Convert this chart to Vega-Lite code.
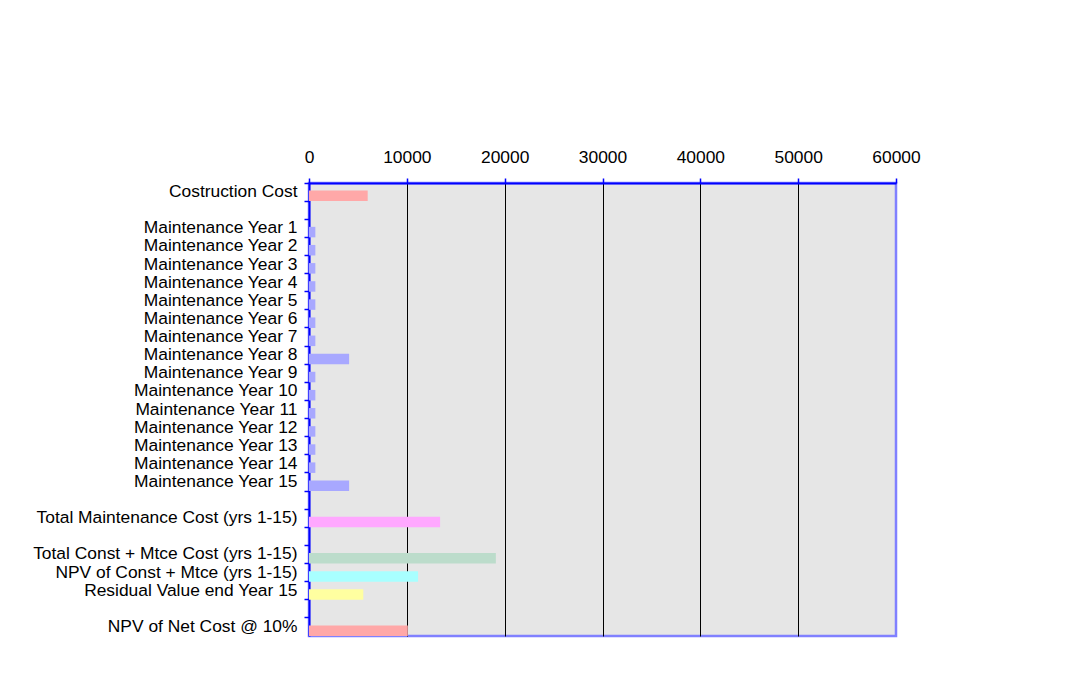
{
  "$schema": "https://vega.github.io/schema/vega-lite/v6.json",
  "width": 587,
  "height": 453,
  "autosize": {"type": "none"},
  "padding": {"left": 309, "top": 183, "right": 194, "bottom": 43},
  "background": "white",
  "data": {
    "values": [
      {"item": "Costruction Cost", "cost": 6000, "group": "Construction"},
      {"item": "Maintenance Year 1", "cost": 650, "group": "Maintenance"},
      {"item": "Maintenance Year 2", "cost": 650, "group": "Maintenance"},
      {"item": "Maintenance Year 3", "cost": 650, "group": "Maintenance"},
      {"item": "Maintenance Year 4", "cost": 650, "group": "Maintenance"},
      {"item": "Maintenance Year 5", "cost": 650, "group": "Maintenance"},
      {"item": "Maintenance Year 6", "cost": 650, "group": "Maintenance"},
      {"item": "Maintenance Year 7", "cost": 650, "group": "Maintenance"},
      {"item": "Maintenance Year 8", "cost": 4100, "group": "Maintenance"},
      {"item": "Maintenance Year 9", "cost": 650, "group": "Maintenance"},
      {"item": "Maintenance Year 10", "cost": 650, "group": "Maintenance"},
      {"item": "Maintenance Year 11", "cost": 650, "group": "Maintenance"},
      {"item": "Maintenance Year 12", "cost": 650, "group": "Maintenance"},
      {"item": "Maintenance Year 13", "cost": 650, "group": "Maintenance"},
      {"item": "Maintenance Year 14", "cost": 650, "group": "Maintenance"},
      {"item": "Maintenance Year 15", "cost": 4100, "group": "Maintenance"},
      {"item": "Total Maintenance Cost (yrs 1-15)", "cost": 13400, "group": "Total Maintenance"},
      {"item": "Total Const + Mtce Cost (yrs 1-15)", "cost": 19100, "group": "Total"},
      {"item": "NPV of Const + Mtce (yrs 1-15)", "cost": 11150, "group": "NPV"},
      {"item": "Residual Value end Year 15", "cost": 5550, "group": "Residual"},
      {"item": "NPV of Net Cost @ 10%", "cost": 10100, "group": "Net"}
    ]
  },
  "mark": {"type": "bar", "height": {"band": 0.58}, "yOffset": 3.8},
  "encoding": {
    "y": {
      "field": "item",
      "type": "nominal",
      "sort": null,
      "scale": {
        "domain": [
          "Costruction Cost", " ",
          "Maintenance Year 1", "Maintenance Year 2", "Maintenance Year 3", "Maintenance Year 4",
          "Maintenance Year 5", "Maintenance Year 6", "Maintenance Year 7", "Maintenance Year 8",
          "Maintenance Year 9", "Maintenance Year 10", "Maintenance Year 11", "Maintenance Year 12",
          "Maintenance Year 13", "Maintenance Year 14", "Maintenance Year 15", "  ",
          "Total Maintenance Cost (yrs 1-15)", "   ",
          "Total Const + Mtce Cost (yrs 1-15)", "NPV of Const + Mtce (yrs 1-15)",
          "Residual Value end Year 15", "    ",
          "NPV of Net Cost @ 10%"
        ],
        "paddingInner": 0,
        "paddingOuter": 0
      },
      "axis": {
        "title": null,
        "bandPosition": 0,
        "tickSize": 5,
        "tickColor": "#0000ff",
        "tickWidth": 1.5,
        "domainColor": "#0000ff",
        "domainWidth": 2,
        "labelFont": "Liberation Sans",
        "labelFontSize": 17.4,
        "labelColor": "black",
        "labelPadding": 7,
        "labelLimit": 400,
        "grid": false
      }
    },
    "x": {
      "field": "cost",
      "type": "quantitative",
      "scale": {"domain": [0, 60000], "nice": false},
      "axis": {
        "orient": "top",
        "title": null,
        "values": [0, 10000, 20000, 30000, 40000, 50000, 60000],
        "format": "d",
        "grid": true,
        "gridColor": {
          "condition": {"test": "datum.value === 0 || datum.value === 60000", "value": "transparent"},
          "value": "black"
        },
        "gridWidth": 1,
        "gridOpacity": 1,
        "tickSize": 5,
        "tickColor": "#0000ff",
        "tickWidth": 1.5,
        "domainColor": "#0000ff",
        "domainWidth": 2,
        "labelFont": "Liberation Sans",
        "labelFontSize": 17.4,
        "labelColor": "black",
        "labelPadding": 12,
        "labelFlush": false,
        "labelOverlap": false
      }
    },
    "color": {
      "field": "group",
      "type": "nominal",
      "scale": {
        "domain": ["Construction", "Maintenance", "Total Maintenance", "Total", "NPV", "Residual", "Net"],
        "range": ["#ffa8a8", "#a8a8ff", "#ffa8ff", "#bcdccb", "#a8ffff", "#ffffa0", "#ffa8a8"]
      },
      "legend": null
    }
  },
  "config": {
    "view": {"fill": "#e6e6e6", "stroke": "#8080ff", "strokeWidth": 2.5}
  }
}
